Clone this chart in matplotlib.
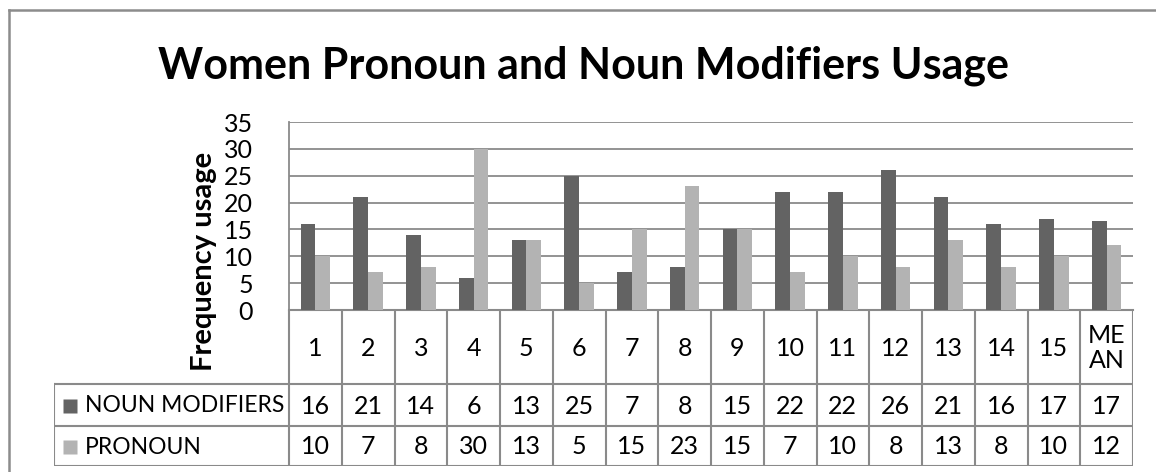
import numpy as np
import matplotlib.pyplot as plt
from matplotlib.lines import Line2D

plt.rcParams['font.family'] = ['Lato', 'DejaVu Sans']

# data
categories = ['1', '2', '3', '4', '5', '6', '7', '8', '9', '10',
              '11', '12', '13', '14', '15', 'ME\nAN']
noun_modifiers = [16, 21, 14, 6, 13, 25, 7, 8, 15, 22, 22, 26, 21, 16, 17, 16.6]
pronoun = [10, 7, 8, 30, 13, 5, 15, 23, 15, 7, 10, 8, 13, 8, 10, 12.13]
series_names = ['NOUN MODIFIERS', 'PRONOUN']
y_ticks = [0, 5, 10, 15, 20, 25, 30, 35]

DARK = '#636363'
LIGHT = '#b3b3b3'
GRID = '#8a8a8a'

W, H = 1156, 472
fig = plt.figure(figsize=(W / 100, H / 100), dpi=100)


def px_box(x0, y0, x1, y1):
    # pixel box (top-left origin) -> figure fraction rect
    return [x0 / W, 1 - y1 / H, (x1 - x0) / W, (y1 - y0) / H]


# chart frame (only top and left edges fall inside the image)
fig.add_artist(Line2D([9 / W, 9 / W], [0, 1 - 10 / H], transform=fig.transFigure,
                      color='#8c8c8c', lw=1.8))
fig.add_artist(Line2D([9 / W, 1], [1 - 10 / H, 1 - 10 / H], transform=fig.transFigure,
                      color='#8c8c8c', lw=1.8))

fig.text(584 / W, 1 - 78 / H, 'Women Pronoun and Noun Modifiers Usage',
         ha='center', va='baseline', fontsize=31, fontweight='bold')

# bar area
ax = fig.add_axes(px_box(289, 122, 1133, 310))
x = np.arange(len(categories))
bw = 0.28
ax.bar(x - bw / 2, noun_modifiers, bw, color=DARK, zorder=3)
ax.bar(x + bw / 2, pronoun, bw, color=LIGHT, zorder=3)
ax.set_xlim(-0.5, len(categories) - 0.5)
ax.set_ylim(0, 35)
ax.set_yticks(y_ticks)
ax.set_xticks([])
ax.tick_params(axis='y', length=0, pad=26, labelsize=18)
for t in y_ticks[1:]:
    ax.axhline(t, color=GRID, lw=1.3, zorder=1)
for side in ['top', 'right']:
    ax.spines[side].set_visible(False)
ax.spines['left'].set_color(GRID)
ax.spines['left'].set_linewidth(1.3)
ax.spines['bottom'].set_color(GRID)
ax.spines['bottom'].set_linewidth(1.5)
ax.set_ylabel('Frequency usage', fontsize=21, fontweight='bold', labelpad=0)
ax.yaxis.set_label_coords((217 - 289) / 844, (310 - 261) / 188)

# data table below the bars
tx0, tx1 = 54, 1133
cw = (1133 - 289) / len(categories)
left_units = (289 - tx0) / cw
tab = fig.add_axes(px_box(tx0, 310, tx1, 466))
tab.set_xlim(-0.5 - left_units, len(categories) - 0.5)
tab.set_ylim(156, 0)
tab.axis('off')
xl = -0.5 - left_units
xr = len(categories) - 0.5
lk = dict(color=GRID, lw=1.5, solid_capstyle='projecting')
for k in range(len(categories) + 1):
    tab.plot([k - 0.5, k - 0.5], [0, 156], **lk)
tab.plot([xl, xl], [74, 156], **lk)
for yy in [74, 116, 156]:
    tab.plot([xl, xr], [yy, yy], **lk)

for i, c in enumerate(categories):
    tab.text(i, 38, c, ha='center', va='center', fontsize=18, linespacing=1.15)
    tab.text(i, 96, f'{noun_modifiers[i]:.0f}', ha='center', va='center', fontsize=18)
    tab.text(i, 137, f'{pronoun[i]:.0f}', ha='center', va='center', fontsize=18)

key_x = xl + 16 / cw
txt_x = xl + 31 / cw
for yy, name, col in [(96, series_names[0], DARK), (137, series_names[1], LIGHT)]:
    tab.plot([key_x], [yy], marker='s', ms=10, color=col, mec='none')
    tab.text(txt_x, yy, name, ha='left', va='center', fontsize=16.5)

fig.savefig('out.png', dpi=100)
